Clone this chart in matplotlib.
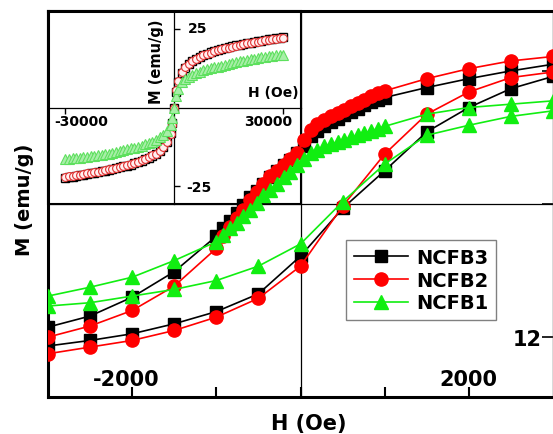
import matplotlib
matplotlib.use("Agg")
import matplotlib.pyplot as plt
from matplotlib.patches import Rectangle
import matplotlib.transforms as mtrans

# ---------------- main plot data (hysteresis loops, low field) ----------------
H_upper = [3000, 2500, 2000, 1500, 1000, 920, 840, 760, 680, 600, 520, 440, 360, 280,
           200, 120, 40, -40, -120, -200, -280, -360, -440, -520, -600, -680, -760,
           -840, -920, -1000, -1500, -2000, -2500, -3000]
M3_upper = [12.6, 12.0, 11.3, 10.5, 9.6, 9.4, 9.2, 8.9, 8.6, 8.3, 8.0, 7.7, 7.4, 7.0,
            6.6, 6.1, 5.2, 4.6, 4.0, 3.5, 3.0, 2.4, 1.8, 1.2, 0.6, -0.1, -0.8,
            -1.5, -2.2, -2.9, -6.1, -8.4, -10.1, -11.1]
M2_upper = [13.3, 12.9, 12.2, 11.3, 10.2, 10.0, 9.7, 9.4, 9.1, 8.8, 8.5, 8.2, 7.9, 7.6,
            7.2, 6.7, 5.8, 4.6, 4.1, 3.5, 3.0, 2.5, 1.8, 1.1, 0.4, -0.5, -1.3,
            -2.1, -2.9, -4.0, -7.4, -9.6, -11.0, -12.0]
M1_upper = [9.3, 9.0, 8.7, 8.1, 7.0, 6.8, 6.6, 6.4, 6.2, 6.0, 5.8, 5.6, 5.4, 5.2,
            4.9, 4.6, 4.1, 3.5, 2.9, 2.4, 1.8, 1.3, 0.8, 0.1, -0.5, -1.1, -1.7,
            -2.2, -2.8, -3.4, -5.1, -6.6, -7.5, -8.3]

H_lower = [-3000, -2500, -2000, -1500, -1000, -500, 0, 500, 1000, 1500, 2000, 2500, 3000]
M3_lower = [-12.8, -12.3, -11.7, -10.8, -9.7, -8.1, -4.7, -0.4, 3.0, 6.5, 8.7, 10.4, 11.5]
M2_lower = [-13.5, -12.9, -12.3, -11.4, -10.2, -8.5, -5.6, -0.2, 4.5, 8.1, 10.1, 11.4, 11.9]
M1_lower = [-9.2, -8.9, -8.3, -7.7, -6.9, -5.6, -3.6, 0.2, 3.6, 6.2, 7.1, 7.9, 8.4]

labels = ["NCFB3", "NCFB2", "NCFB1"]

# ---------------- inset data (full field range) ----------------
H_in = [-30000, -29000, -28000, -27000, -26000, -25000, -24000, -23000, -22000, -21000,
        -20000, -19000, -18000, -17000, -16000, -15000, -14000, -13000, -12000, -11000,
        -10000, -9000, -8000, -7000, -6000, -5000, -4000, -3000, -2000, -1000,
        -500, 0, 500,
        1000, 2000, 3000, 4000, 5000, 6000, 7000, 8000, 9000, 10000,
        11000, 12000, 13000, 14000, 15000, 16000, 17000, 18000, 19000, 20000,
        21000, 22000, 23000, 24000, 25000, 26000, 27000, 28000, 29000, 30000]
M3_in = [-22.2, -22.0, -21.9, -21.7, -21.5, -21.3, -21.1, -20.9, -20.7, -20.5,
         -20.2, -20.0, -19.8, -19.5, -19.2, -19.0, -18.7, -18.4, -18.1, -17.7,
         -17.3, -16.9, -16.4, -15.9, -15.3, -14.6, -13.7, -12.4, -10.8, -8.0,
         -5.0, 0.0, 5.0,
         8.0, 10.9, 12.6, 13.8, 14.7, 15.5, 16.0, 16.5, 17.0, 17.5,
         17.9, 18.3, 18.6, 18.9, 19.1, 19.4, 19.7, 19.9, 20.2, 20.4,
         20.6, 20.8, 21.0, 21.2, 21.4, 21.6, 21.8, 22.0, 22.1, 22.3]
M2_in = [-21.9, -21.8, -21.6, -21.5, -21.3, -21.1, -20.9, -20.7, -20.5, -20.3,
         -20.1, -19.8, -19.6, -19.4, -19.1, -18.8, -18.6, -18.3, -18.0, -17.6,
         -17.2, -16.8, -16.3, -15.8, -15.2, -14.6, -13.7, -12.6, -11.0, -8.4,
         -5.4, 0.0, 5.5,
         8.5, 11.2, 12.8, 13.9, 14.8, 15.5, 16.0, 16.5, 17.0, 17.4,
         17.8, 18.2, 18.5, 18.8, 19.0, 19.3, 19.6, 19.8, 20.0, 20.3,
         20.5, 20.7, 20.9, 21.1, 21.3, 21.5, 21.7, 21.8, 21.9, 22.1]
M1_in = [-16.3, -16.2, -16.1, -16.0, -15.9, -15.8, -15.7, -15.5, -15.4, -15.2,
         -15.0, -14.8, -14.6, -14.4, -14.1, -13.9, -13.6, -13.3, -13.0, -12.7,
         -12.4, -12.1, -11.7, -11.3, -10.8, -10.2, -9.5, -8.6, -7.4, -5.5,
         -3.2, 0.0, 3.5,
         6.0, 8.2, 9.0, 9.8, 10.4, 11.0, 11.4, 11.8, 12.1, 12.4,
         12.7, 13.0, 13.3, 13.6, 13.9, 14.1, 14.4, 14.6, 14.8, 15.1,
         15.3, 15.5, 15.7, 15.9, 16.0, 16.2, 16.4, 16.5, 16.6, 16.7]

plt.rcParams["font.family"] = ["DejaVu Sans"]
plt.rcParams["font.weight"] = "bold"

W, Hpx = 553, 435
fig = plt.figure(figsize=(W / 100, Hpx / 100), dpi=100)
fig.patch.set_facecolor("white")

# main axes
ax = fig.add_axes([48 / W, 37 / Hpx, 505 / W, 386 / Hpx])
ax.set_facecolor("none")
ax.set_zorder(2)
ax.set_xlim(-3000, 3000)
ax.set_ylim(-17.4, 17.4)

# inset axes (top-left quadrant, behind main data)
inset = fig.add_axes([48 / W, 230 / Hpx, 252.5 / W, 193 / Hpx])
inset.set_zorder(1)
inset.set_facecolor("white")

RED = "#ff0000"
GREEN = "#11ee11"
BLACK = "#000000"

ax.axhline(0, color="black", lw=0.9, zorder=1)
ax.axvline(0, color="black", lw=0.9, zorder=1)

styles = [
    (M3_upper, M3_lower, BLACK, "s", 8.0),
    (M2_upper, M2_lower, RED, "o", 9.5),
    (M1_upper, M1_lower, GREEN, "^", 10.0),
]
handles = []
for (mu, ml, c, mk, ms), lab in zip(styles, labels):
    h, = ax.plot(H_upper, mu, color=c, marker=mk, ms=ms, lw=1.2, mec=c, mfc=c,
                 label=lab, zorder=3)
    ax.plot(H_lower, ml, color=c, marker=mk, ms=ms, lw=1.2, mec=c, mfc=c, zorder=3)
    handles.append(h)

for s in ["left", "bottom", "top"]:
    ax.spines[s].set_linewidth(2.2)
    ax.spines[s].set_color("black")
ax.spines["right"].set_linewidth(1.0)
ax.spines["right"].set_color("#444444")

ax.set_xticks([-2000, -1000, 0, 1000, 2000])
ax.set_yticks([-12, 0, 12])
ax.tick_params(axis="x", direction="in", length=7, width=1.5, labelbottom=False,
               top=False, bottom=True)
ax.tick_params(axis="y", direction="in", length=8, width=1.2, left=False, right=True,
               labelleft=False, labelright=False)

trans_x = mtrans.blended_transform_factory(ax.transData, ax.transAxes)
ax.text(-2070, 0.047, "-2000", transform=trans_x, ha="center", va="center",
        fontsize=15, fontweight="bold")
ax.text(2000, 0.047, "2000", transform=trans_x, ha="center", va="center",
        fontsize=15, fontweight="bold")
trans_y = mtrans.blended_transform_factory(ax.transAxes, ax.transData)
ax.text(0.978, -12.2, "12", transform=trans_y, ha="right", va="center",
        fontsize=15, fontweight="bold")

leg = ax.legend(handles=handles, loc="upper left", bbox_to_anchor=(0.590, 0.407),
                borderaxespad=0, prop={"weight": "bold", "size": 14},
                fancybox=False, framealpha=1, edgecolor="#808080",
                handlelength=2.8, handletextpad=0.4, labelspacing=0.2,
                borderpad=0.4)
leg.get_frame().set_linewidth(1.0)

fig.text(309 / W, 1 - 424 / Hpx, "H (Oe)", ha="center", va="center",
         fontsize=15, fontweight="bold")
fig.text(24 / W, 1 - 200 / Hpx, "M (emu/g)", ha="center", va="center",
         rotation=90, fontsize=14, fontweight="bold")

# ---------------- inset ----------------
inset.set_xlim(-34750, 34750)
inset.set_ylim(-30.6, 30.6)
inset.plot(H_in, M3_in, ls="none", marker="s", ms=5.2, mec=BLACK, mfc="white",
           mew=1.0, zorder=3)
inset.plot(H_in, M2_in, ls="none", marker="o", ms=5.6, mec="#e03030", mfc="#fff0f0",
           mew=0.8, zorder=4)
inset.plot(H_in, M1_in, ls="none", marker="^", ms=7.0, mec="#5ee05e", mfc="#a8eea8",
           mew=0.8, zorder=5)

inset.spines["top"].set_visible(False)
inset.spines["left"].set_visible(False)
inset.spines["bottom"].set_position(("data", 0))
inset.spines["right"].set_position(("data", 0))
inset.spines["bottom"].set_linewidth(0.9)
inset.spines["right"].set_linewidth(0.9)
inset.xaxis.set_ticks_position("bottom")
inset.yaxis.set_ticks_position("right")
inset.set_xticks([-30000, 30000])
inset.set_yticks([-25, 25])
inset.tick_params(axis="both", direction="out", length=4, width=1.0,
                  labelbottom=False, labelright=False, labelleft=False)
inset.add_patch(Rectangle((0, 0), 1, 1, transform=inset.transAxes, fill=False,
                          lw=1.5, edgecolor="black", clip_on=False, zorder=6))

inset.text(-25660, -4.3, "-30000", ha="center", va="center", fontsize=10,
           fontweight="bold")
inset.text(25800, -4.3, "30000", ha="center", va="center", fontsize=10,
           fontweight="bold")
inset.text(3700, 25.2, "25", ha="left", va="center", fontsize=10, fontweight="bold")
inset.text(3200, -25.2, "-25", ha="left", va="center", fontsize=10, fontweight="bold")
inset.text(-5020, 14.8, "M (emu/g)", ha="center", va="center", rotation=90,
           fontsize=10.5, fontweight="bold")
inset.text(27200, 4.9, "H (Oe)", ha="center", va="center", fontsize=10,
           fontweight="bold")

fig.savefig("out.png", dpi=100)
